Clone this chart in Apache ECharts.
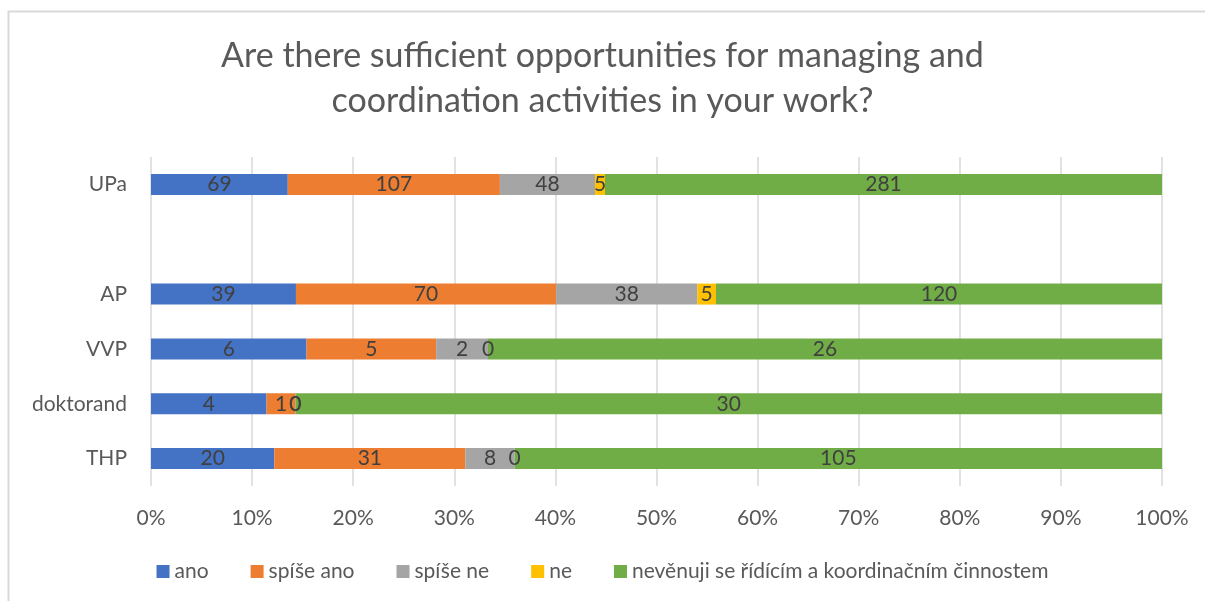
<!DOCTYPE html>
<html>
<head>
<meta charset="utf-8">
<script src="https://cdn.jsdelivr.net/npm/echarts@6/dist/echarts.min.js"></script>
<style>
  html, body { margin: 0; padding: 0; background: #fff; }
  #chart { width: 1205px; height: 601px; }
</style>
</head>
<body>
<div id="chart"></div>
<script>
// skupiny (shora dolu), prazdny radek mezi UPa a AP
const categories = ["UPa", "", "AP", "VVP", "doktorand", "THP"];
const seriesNames = ["ano", "spíše ano", "spíše ne", "ne", "nevěnuji se řídícím a koordinačním činnostem"];
const colors = ["#4472c4", "#ed7d31", "#a5a5a5", "#ffc000", "#70ad47"];

const ano      = [69, null, 39, 6, 4, 20];
const spiseAno = [107, null, 70, 5, 1, 31];
const spiseNe  = [48, null, 38, 2, 0, 8];
const ne       = [5, null, 5, 0, 0, 0];
const nevenuji = [281, null, 120, 26, 30, 105];

const xTicks = [0, 10, 20, 30, 40, 50, 60, 70, 80, 90, 100];

const FONT = "Lato";
const raw = [ano, spiseAno, spiseNe, ne, nevenuji];

// soucty pro 100% skladany graf
const totals = categories.map((c, i) => raw.reduce((s, arr) => s + (arr[i] || 0), 0));

const chart = echarts.init(document.getElementById("chart"));

const series = raw.map((arr, k) => ({
  name: seriesNames[k],
  type: "bar",
  stack: "total",
  barWidth: 21,
  itemStyle: { color: colors[k] },
  label: {
    show: true,
    position: "inside",
    color: "#404040",
    fontFamily: FONT,
    fontSize: 21,
    formatter: (p) => String(arr[p.dataIndex]),
  },
  data: arr.map((v, i) => (v === null ? null : (v / totals[i]) * 100)),
}));

const option = {
  backgroundColor: "#ffffff",
  animation: false,
  title: {
    text: "Are there sufficient opportunities for managing and\ncoordination activities in your work?",
    left: "center",
    top: 29,
    textStyle: {
      color: "#595959",
      fontFamily: FONT,
      fontWeight: "normal",
      fontSize: 34,
      lineHeight: 45,
    },
  },
  legend: {
    bottom: 14,
    left: "center",
    itemWidth: 13,
    itemHeight: 13,
    itemGap: 42,
    icon: "rect",
    textStyle: { color: "#595959", fontFamily: FONT, fontSize: 21 },
    data: seriesNames,
  },
  grid: { left: 151, right: 43, top: 157, bottom: 115, containLabel: false },
  xAxis: {
    type: "value",
    min: 0,
    max: 100,
    interval: 10,
    axisLine: { show: false },
    axisTick: { show: false },
    splitLine: { lineStyle: { color: "#d9d9d9", width: 1.5 } },
    axisLabel: {
      color: "#595959",
      fontFamily: FONT,
      fontSize: 21,
      margin: 22,
      formatter: (v) => (xTicks.includes(v) ? v + "%" : ""),
    },
  },
  yAxis: {
    type: "category",
    inverse: true,
    data: categories,
    axisLine: { show: false },
    axisTick: { show: false },
    axisLabel: { color: "#595959", fontFamily: FONT, fontSize: 21, margin: 24 },
  },
  graphic: [
    {
      type: "rect",
      shape: { x: 8.5, y: 11.5, width: 1210, height: 620 },
      style: { fill: "none", stroke: "#d9d9d9", lineWidth: 2 },
      silent: true,
    },
  ],
  series: series,
};

chart.setOption(option);
</script>
</body>
</html>
